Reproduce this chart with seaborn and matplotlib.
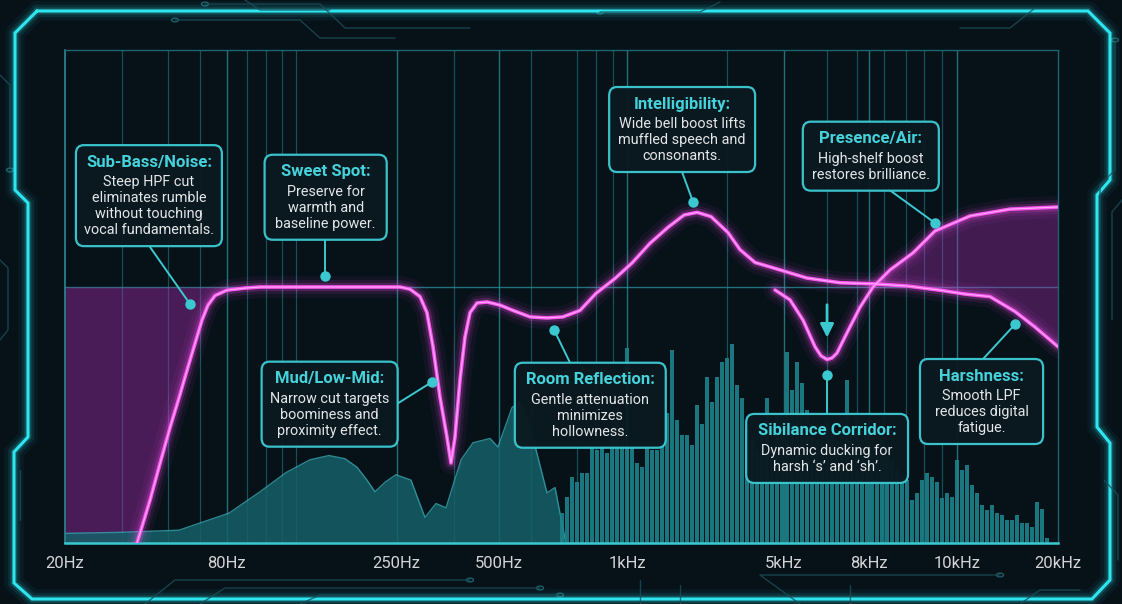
import numpy as np
import matplotlib
matplotlib.use('Agg')
import matplotlib.pyplot as plt
import seaborn as sns
from matplotlib.patches import FancyBboxPatch, Circle
from matplotlib.lines import Line2D

# x = position along the drawn frequency ruler (0 = 20Hz edge, 100 = 20kHz edge)
tick_pos = [0, 16.3, 33.4, 43.7, 56.6, 72.4, 81.0, 89.8, 100]
tick_labels = ['20Hz', '80Hz', '250Hz', '500Hz', '1kHz', '5kHz', '8kHz', '10kHz', '20kHz']
grid_pos = [5.7, 10.4, 13.6, 16.3, 18.3, 20.2, 21.9, 23.3, 33.4, 39.2, 43.7, 46.9,
            51.6, 53.5, 55.2, 56.6, 66.7, 72.4, 76.7, 79.8, 81.0, 82.5, 84.7, 86.5,
            88.3, 89.8]

# main EQ curve (dB)
eq_x = [7.25, 8.56, 9.67, 10.57, 11.48, 12.29, 13.09, 13.8, 14.4, 15.11, 16.31, 18.13,
        19.64, 33.74, 34.74, 35.75, 36.45, 37.06, 37.76, 38.47, 38.87, 39.27, 39.78,
        40.28, 40.79, 41.49, 42.5, 43.81, 45.12, 46.83, 48.54, 50.15, 51.86, 53.47,
        55.39, 57.1, 58.91, 60.73, 62.34, 63.65, 65.06, 66.77, 67.98, 69.49, 71.3,
        74.72, 78.05, 81.37, 84.79, 88.12, 90.63, 93.15, 95.67, 97.68, 100]
eq_db = [-24.0, -20.0, -16.2, -13.2, -10.4, -7.8, -5.3, -3.1, -1.7, -0.8, -0.3, -0.1,
         0.0, 0.0, -0.2, -0.9, -2.4, -5.6, -10.3, -14.1, -16.5, -14.1, -8.7,
         -4.7, -2.4, -1.5, -1.4, -1.7, -2.2, -2.8, -2.9, -2.8, -2.2, -0.6,
         0.8, 2.25, 4.1, 5.6, 6.75, 7.0, 6.6, 5.1, 3.5, 2.3, 1.8,
         0.84, 0.4, 0.3, 0.1, -0.3, -0.66, -0.9, -2.3, -3.75, -5.6]

# sibilance notch + high shelf branch
sib_x = [71.5, 73.01, 74.32, 75.53, 76.13, 76.74, 77.24, 77.74, 78.75, 80.06, 81.37,
         83.08, 85.4, 87.61, 91.14, 95.17, 100]
sib_db = [-0.28, -1.2, -3.1, -5.6, -6.45, -6.8, -6.65, -6.2, -4.3, -1.9, 0.0,
          1.6, 3.2, 5.25, 6.66, 7.3, 7.5]

# smooth low-frequency spectrum
spec_x = [0, 5.54, 11.48, 16.52, 19.64, 22.26, 24.67, 26.59, 28.2, 29.41, 30.41, 31.22,
          32.23, 33.33, 34.84, 36.25, 37.36, 38.37, 39.88, 41.09, 42.8, 43.6, 45.02,
          45.82, 46.83, 47.53, 48.54, 49.35, 49.85, 50.45]
spec_db = [-23.1, -23.0, -22.8, -21.2, -19.2, -17.4, -16.2, -15.8, -16.1, -16.9, -18.1,
           -19.2, -18.3, -17.6, -18.1, -21.6, -20.3, -20.7, -16.2, -14.6, -14.2, -15.0,
           -11.3, -10.8, -13.1, -15.6, -19.3, -18.8, -21.2, -24.0]

# high-frequency spectrum bars (dB)
bar_db = [-21.2, -19.7, -17.8, -18.3, -17.4, -17.4, -15.1, -15.3, -15.1, -15.6,
          -13.4, -11.3, -14.3, -5.7, -14.8, -16.5, -16.9, -15.0, -15.3, -15.3,
          -14.3, -11.8, -5.9, -12.5, -13.9, -13.9, -14.8, -11.1, -12.8, -8.4,
          -10.8, -8.4, -7.0, -6.7, -5.3, -9.2, -10.4, -13.4, -14.3, -15.3,
          -13.4, -10.4, -14.8, -12.0, -11.8, -6.1, -9.7, -7.0, -9.0, -11.5,
          -13.4, -14.3, -13.4, -12.5, -13.9, -14.3, -12.5, -8.7, -13.4, -12.5,
          -14.3, -13.4, -14.8, -15.3, -14.3, -15.8, -16.2, -17.2, -17.6, -18.1,
          -20.0, -19.3, -18.1, -17.4, -17.8, -18.3, -19.8, -19.3, -19.7, -16.2,
          -17.2, -16.7, -18.6, -19.3, -20.4, -20.9, -20.4, -21.2, -21.4, -21.8,
          -21.8, -21.4, -22.1, -22.1, -22.5, -20.2, -20.8, -23.5]

notes = [
    ('Sub-Bass/Noise:', 'Steep HPF cut\neliminates rumble\nwithout touching\nvocal fundamentals.'),
    ('Sweet Spot:', 'Preserve for\nwarmth and\nbaseline power.'),
    ('Mud/Low-Mid:', 'Narrow cut targets\nboominess and\nproximity effect.'),
    ('Room Reflection:', 'Gentle attenuation\nminimizes\nhollowness.'),
    ('Intelligibility:', 'Wide bell boost lifts\nmuffled speech and\nconsonants.'),
    ('Presence/Air:', 'High-shelf boost\nrestores brilliance.'),
    ('Sibilance Corridor:', 'Dynamic ducking for\nharsh \u2018s\u2019 and \u2018sh\u2019.'),
    ('Harshness:', 'Smooth LPF\nreduces digital\nfatigue.'),
]
# box (left, right, top) and leader (from -> dot), in data units
note_layout = [
    ((1.1, 15.8, 13.3), (8.56, 3.75), (12.59, -1.6)),
    ((20.1, 32.4, 12.4), (26.18, 4.41), (26.18, 1.0)),
    ((19.8, 33.5, -7.0), (33.53, -10.9), (36.96, -8.9)),
    ((45.3, 60.5, -7.1), (50.86, -7.1), (49.24, -4.0)),
    ((54.8, 69.5, 18.75), (62.13, 10.8), (63.24, 8.0)),
    ((74.3, 88.0, 15.5), (82.88, 9.2), (87.61, 6.0)),
    ((68.6, 84.9, -11.9), (76.74, -11.9), (76.74, -8.25)),
    ((86.1, 98.5, -6.75), (92.45, -6.75), (95.67, -3.5)),
]

BG = '#061118'
GRID = '#1d6670'
TEAL = '#3cc8d0'
NEON = '#2ee6f0'
MAG = '#ff55f2'

sns.set_theme(style='dark', rc={'axes.facecolor': BG, 'figure.facecolor': BG})
plt.rcParams['font.family'] = ['Roboto', 'DejaVu Sans']

W, H = 1122, 604
fig = plt.figure(figsize=(W / 100, H / 100), dpi=100)
ax = fig.add_axes([65 / W, 61 / H, 993 / W, 493 / H])
ax.set_facecolor(BG)
YMIN, YMAX = -24, 22.22
PX = (YMAX - YMIN) / 493  # dB per pixel

# ---- decorative neon frame and circuit traces (figure pixels) ----
def fig_line(pts, **kw):
    xs = [p[0] / W for p in pts]
    ys = [1 - p[1] / H for p in pts]
    fig.add_artist(Line2D(xs, ys, transform=fig.transFigure, **kw))

frame = [(37, 11), (1088, 11), (1110, 33), (1110, 180), (1097, 195), (1097, 427),
         (1110, 443), (1110, 580), (1092, 599), (32, 599), (14, 583), (14, 452),
         (28, 437), (28, 203), (15, 190), (15, 33), (37, 11)]
for lw, a in [(14, 0.05), (9, 0.09), (5, 0.2)]:
    fig_line(frame, color=NEON, lw=lw, alpha=a, solid_joinstyle='round')
fig_line(frame, color=NEON, lw=2.2, solid_joinstyle='miter')

traces = [
    [(175, 20), (300, 20), (320, 38), (395, 38)],
    [(205, 4), (320, 4), (345, 28), (470, 28)],
    [(245, 0), (260, 10), (330, 10)],
    [(600, 12), (700, 12), (720, 2)],
    [(960, 28), (1010, 28), (1035, 8)],
    [(1115, 40), (1115, 170), (1100, 185), (1100, 230)],
    [(1122, 200), (1112, 212), (1112, 320)],
    [(1104, 480), (1118, 495), (1118, 560)],
    [(0, 75), (10, 85), (10, 170)],
    [(0, 260), (8, 268), (8, 330), (0, 340)],
    [(20, 470), (20, 520)],
    [(145, 604), (175, 580), (470, 580)],
    [(200, 604), (225, 588), (540, 588)],
    [(300, 604), (320, 595), (560, 595)],
    [(640, 604), (640, 580)],
    [(680, 604), (680, 585)],
    [(800, 604), (760, 575), (1000, 575)],
    [(850, 604), (850, 585)],
    [(1020, 604), (1040, 590), (1080, 590)],
]
for t in traces:
    fig_line(t, color='#1a4f5a', lw=1.0, alpha=0.8)
for cx, cy in [(175, 20), (205, 4), (600, 12), (1115, 40), (10, 170), (470, 580),
               (540, 588), (560, 595), (1000, 575)]:
    fig.add_artist(Circle((cx / W, 1 - cy / H), 3.5 / W, transform=fig.transFigure,
                          fill=False, ec='#1f5c66', lw=1.0))

# ---- grid ----
ax.vlines(grid_pos, YMIN, YMAX, color=GRID, lw=0.9, alpha=0.75, zorder=1)
ax.vlines(tick_pos[1:-1], YMIN, YMAX, color='#2a8e98', lw=1.0, alpha=0.55, zorder=1)
ax.axhline(0, color='#2a8a94', lw=1.0, alpha=0.8, zorder=1)

# ---- purple cut regions ----
hp_x = [0] + [x for x in eq_x if x <= 16.4]
hp_y = [YMIN] + [y for x, y in zip(eq_x, eq_db) if x <= 16.4]
ax.fill_between(hp_x, hp_y, 0, color='#a62cb0', alpha=0.42, lw=0, zorder=1.5)
shelf_top = [(x, y) for x, y in zip(sib_x, sib_db) if x >= 81.3]
shelf_bot = [(x, y) for x, y in zip(eq_x, eq_db) if x >= 81.3][::-1]
poly = shelf_top + shelf_bot
ax.fill([p[0] for p in poly], [p[1] for p in poly], color='#a62cb0', alpha=0.38,
        lw=0, zorder=1.5)

# ---- spectrum ----
ax.fill_between(spec_x, YMIN, spec_db, color='#166069', alpha=0.85, lw=0, zorder=2)
sns.lineplot(x=spec_x, y=spec_db, ax=ax, color='#35a4ad', lw=1.0, alpha=0.8,
             sort=False, estimator=None, zorder=2)
bar_x = np.linspace(50.05, 98.9, len(bar_db))
ax.bar(bar_x, np.array(bar_db) - YMIN, bottom=YMIN, width=0.32, color='#1d828b',
       alpha=0.9, lw=0, zorder=2)

# ---- EQ curves with glow ----
for xs, ys in [(eq_x, eq_db), (sib_x, sib_db)]:
    for lw, a in [(16, 0.05), (10, 0.09), (6, 0.18)]:
        ax.plot(xs, ys, color=MAG, lw=lw, alpha=a, solid_capstyle='round',
                solid_joinstyle='round', zorder=3)
    sns.lineplot(x=xs, y=ys, ax=ax, color=MAG, lw=2.6, sort=False, estimator=None,
                 zorder=3.5)
    ax.plot(xs, ys, color='#ffc4fb', lw=0.8, alpha=0.8, solid_joinstyle='round',
            zorder=3.6)

# sibilance arrow
ax.annotate('', xy=(76.74, -5.0), xytext=(76.74, -1.4),
            arrowprops=dict(arrowstyle='-|>', color=TEAL, lw=2, mutation_scale=20),
            zorder=6)

# ---- annotation boxes ----
for (title, body), ((l, r, top), start, dot) in zip(notes, note_layout):
    lines = body.split('\n')
    h = (37 + 16 * len(lines)) * PX
    box = FancyBboxPatch((l, top - h), r - l, h,
                         boxstyle='round,pad=0,rounding_size=0.8',
                         fc='#0b1a21', ec=TEAL, lw=1.6, alpha=0.97, zorder=5)
    ax.add_patch(box)
    cx = (l + r) / 2
    ax.text(cx, top - 17 * PX, title, ha='center', va='center', fontsize=12,
            fontweight='bold', color='#45d2da', zorder=6)
    for i, ln in enumerate(lines):
        ax.text(cx, top - (37 + 16 * i) * PX, ln, ha='center', va='center',
                fontsize=10.4, color='#e4e6e8', zorder=6)
    ax.plot([start[0], dot[0]], [start[1], dot[1]], color=TEAL, lw=1.4, zorder=4)
    ax.plot(dot[0], dot[1], 'o', color=TEAL, ms=6.5, zorder=6)

# ---- axes styling ----
ax.set_xlim(0, 100)
ax.set_ylim(YMIN, YMAX)
ax.set_xticks(tick_pos, tick_labels)
ax.set_yticks([])
ax.tick_params(axis='x', length=0, pad=9, labelsize=12, labelcolor='#d2d4d6')
for s in ['top', 'right']:
    ax.spines[s].set_color(GRID)
    ax.spines[s].set_linewidth(1.0)
ax.spines['left'].set_color('#2a8a94')
ax.spines['left'].set_linewidth(1.2)
ax.spines['bottom'].set_color(TEAL)
ax.spines['bottom'].set_linewidth(1.8)
ax.set_xlabel('')
ax.set_ylabel('')

fig.savefig('out.png', dpi=100, facecolor=BG)
